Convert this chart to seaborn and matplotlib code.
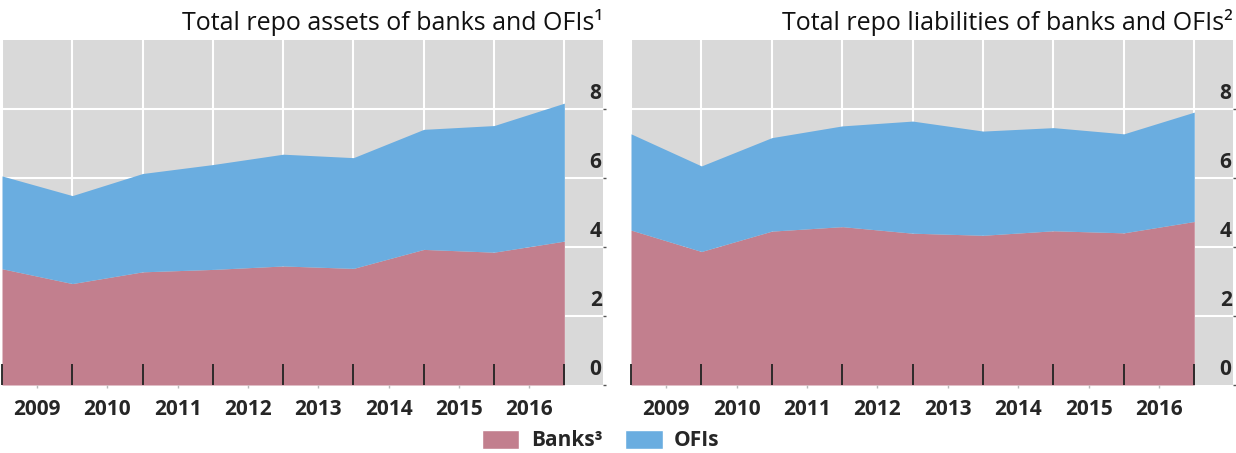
import numpy as np
import matplotlib
matplotlib.use('Agg')
import matplotlib.pyplot as plt
import matplotlib.transforms as mtrans
from matplotlib.patches import Patch
import seaborn as sns

# year-end points, 2008 to 2016 (USD trn)
periods = [2009, 2010, 2011, 2012, 2013, 2014, 2015, 2016, 2017]
year_labels = ['2009', '2010', '2011', '2012', '2013', '2014', '2015', '2016']
y_ticks = [0, 2, 4, 6, 8]

assets_banks = [3.37, 2.94, 3.28, 3.35, 3.45, 3.38, 3.93, 3.85, 4.17]
assets_ofis = [2.69, 2.55, 2.85, 3.04, 3.24, 3.21, 3.48, 3.67, 4.00]

liab_banks = [4.49, 3.87, 4.46, 4.59, 4.40, 4.34, 4.47, 4.41, 4.74]
liab_ofis = [2.79, 2.48, 2.71, 2.92, 3.25, 3.02, 2.99, 2.87, 3.17]

titles = ['Total repo assets of banks and OFIs¹',
          'Total repo liabilities of banks and OFIs²']
series_names = ['Banks³', 'OFIs']

sns.set_theme(style='dark')
plt.rcParams['font.family'] = ['Open Sans', 'DejaVu Sans']
colors = sns.color_palette(['#c27f8e', '#6aade0'])

fig = plt.figure(figsize=(12.36, 4.53), dpi=100)
W, H = 1236, 453
ax1 = fig.add_axes([2 / W, 68 / H, 601 / W, 345 / H])
ax2 = fig.add_axes([631 / W, 68 / H, 602 / W, 345 / H])

panels = [(ax1, assets_banks, assets_ofis, titles[0]),
          (ax2, liab_banks, liab_ofis, titles[1])]

for ax, banks, ofis, title in panels:
    ax.set_facecolor('#d9d9d9')
    # white grid under the areas, ticks stay on top
    for p in periods:
        ax.axvline(p, color='white', linewidth=1.5, zorder=0.5)
    for t in y_ticks[1:]:
        ax.axhline(t, color='white', linewidth=1.5, zorder=0.5)
    ax.stackplot(periods, banks, ofis, colors=colors, linewidth=0, zorder=1)
    ax.set_xlim(periods[0], periods[0] + 8.55)
    ax.set_ylim(0, 10)
    ax.grid(False)

    ax.set_xticks(periods)
    ax.set_xticks([p + 0.5 for p in periods[:-1]], minor=True)
    ax.set_xticklabels([])
    ax.set_xticklabels(year_labels, minor=True, fontweight='bold', fontsize=15)
    ax.tick_params(axis='x', which='major', direction='in', length=15, width=1.3,
                   color='#222222', bottom=True)
    ax.tick_params(axis='x', which='minor', direction='out', length=2, width=1,
                   color='#bbbbbb', bottom=True, pad=8)

    ax.yaxis.tick_right()
    ax.set_yticks(y_ticks)
    ax.tick_params(axis='y', direction='out', length=2, width=1, color='#555555',
                   right=True, pad=-3, labelsize=15)
    offset = mtrans.ScaledTranslation(0, 5 / 100, fig.dpi_scale_trans)
    for lab in ax.get_yticklabels():
        lab.set_ha('right')
        lab.set_va('bottom')
        lab.set_fontweight('bold')
        lab.set_transform(lab.get_transform() + offset)

    ax.set_axisbelow(False)
    for s in ax.spines.values():
        s.set_visible(False)

    ax.set_title(title, loc='right', fontsize=18, pad=7, color='#111111')

handles = [Patch(facecolor=colors[0], label=series_names[0]),
           Patch(facecolor=colors[1], label=series_names[1])]
fig.legend(handles=handles, loc='lower center', bbox_to_anchor=(0.486, -0.015),
           ncol=2, frameon=False, handlelength=1.8, handleheight=1.0,
           columnspacing=1.1, handletextpad=0.55, borderaxespad=0.0,
           prop={'weight': 'bold', 'size': 15})

fig.savefig('out.png', dpi=100)
